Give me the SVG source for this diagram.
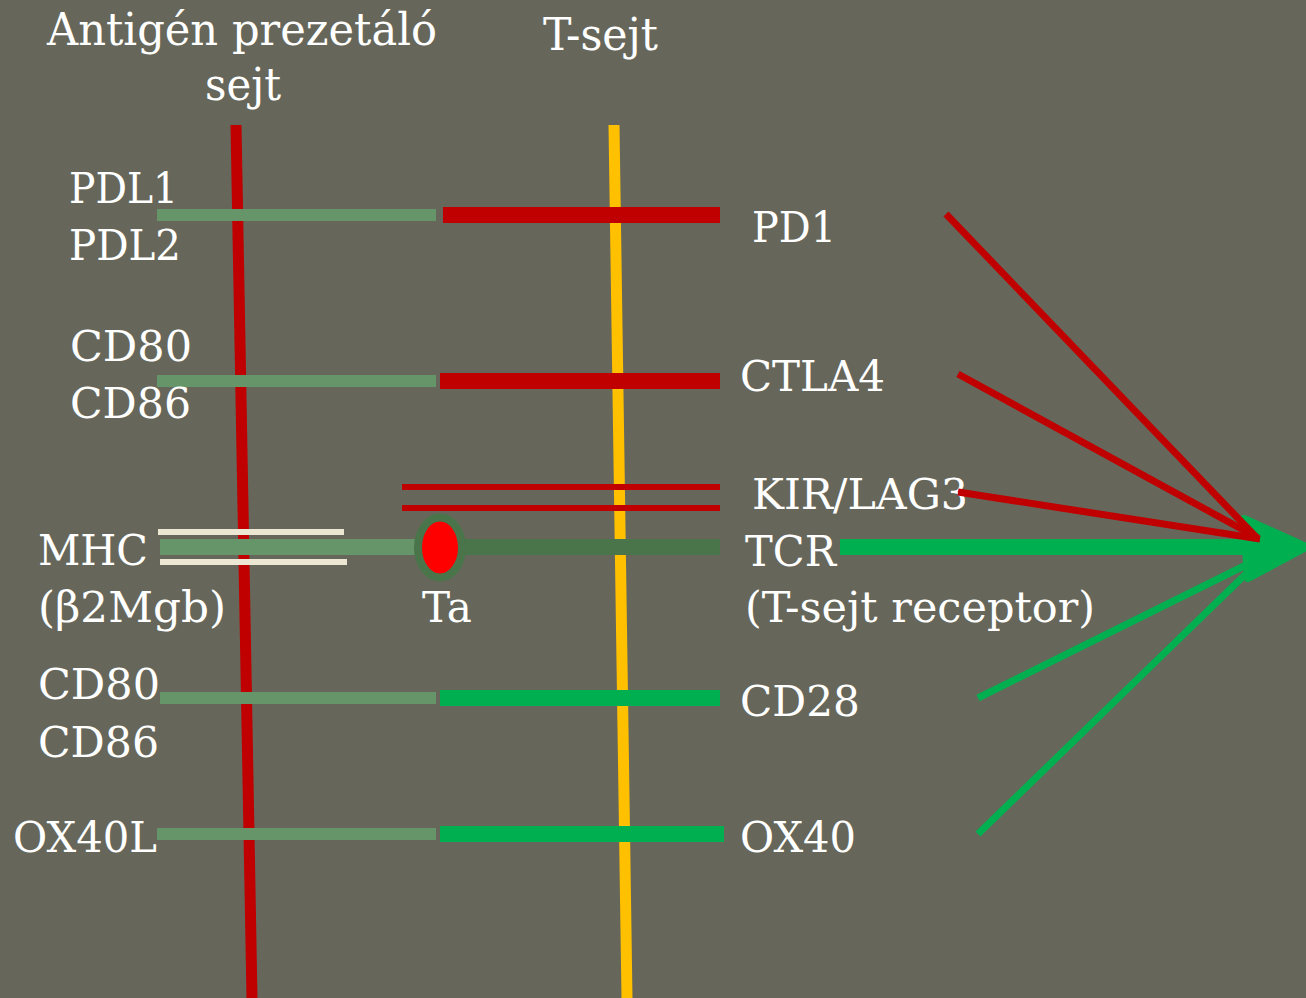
<svg xmlns="http://www.w3.org/2000/svg" width="1306" height="998" viewBox="0 0 1306 998">
  <style>
    .lbl { font-family: "DejaVu Serif", "Liberation Serif", serif; font-size: 42px; fill: #ffffff; }
    .ttl { font-family: "DejaVu Serif", "Liberation Serif", serif; font-size: 44px; fill: #ffffff; }
    .apc { fill: #66956a; }
    .inh { fill: #c00000; }
    .act { fill: #00b050; }
    .sig-red { stroke: #c00000; stroke-width: 7; stroke-linecap: butt; fill: none; }
    .sig-green { stroke: #00b050; stroke-width: 7; stroke-linecap: butt; fill: none; }
  </style>
  <rect width="1306" height="998" fill="#66675a"/>

  <!-- headings -->
  <g id="headings">
    <text class="ttl" x="47" y="45" textLength="390" lengthAdjust="spacingAndGlyphs">Antigén prezetáló</text>
    <text class="ttl" x="205" y="100" textLength="76" lengthAdjust="spacingAndGlyphs">sejt</text>
    <text class="ttl" x="543" y="50" textLength="115" lengthAdjust="spacingAndGlyphs">T-sejt</text>
  </g>

  <!-- cell membranes -->
  <g id="membranes">
    <line x1="236" y1="125" x2="252" y2="998" stroke="#c00000" stroke-width="11"/>
    <line x1="614" y1="125" x2="627" y2="998" stroke="#ffc000" stroke-width="11"/>
  </g>

  <!-- PDL1/PDL2 - PD1 -->
  <g id="pd1">
    <rect class="apc" x="157" y="209" width="279" height="12"/>
    <rect class="inh" x="443" y="207" width="277" height="16"/>
    <text class="lbl" x="69" y="203" textLength="109" lengthAdjust="spacingAndGlyphs">PDL1</text>
    <text class="lbl" x="69" y="260" textLength="112" lengthAdjust="spacingAndGlyphs">PDL2</text>
    <text class="lbl" x="752" y="242" textLength="84" lengthAdjust="spacingAndGlyphs">PD1</text>
  </g>

  <!-- CD80/CD86 - CTLA4 -->
  <g id="ctla4">
    <rect class="apc" x="157" y="375" width="279" height="12"/>
    <rect class="inh" x="440" y="373" width="280" height="16"/>
    <text class="lbl" x="70" y="361" textLength="122" lengthAdjust="spacingAndGlyphs">CD80</text>
    <text class="lbl" x="70" y="418" textLength="121" lengthAdjust="spacingAndGlyphs">CD86</text>
    <text class="lbl" x="740" y="391" textLength="145" lengthAdjust="spacingAndGlyphs">CTLA4</text>
  </g>

  <!-- KIR/LAG3 -->
  <g id="kir-lag3">
    <rect class="inh" x="402" y="484" width="318" height="6"/>
    <rect class="inh" x="402" y="505" width="318" height="6"/>
    <text class="lbl" x="752" y="509" textLength="216" lengthAdjust="spacingAndGlyphs">KIR/LAG3</text>
  </g>

  <!-- MHC + antigen - TCR -->
  <g id="tcr">
    <rect x="158" y="529" width="186" height="6" fill="#ece7d3"/>
    <rect x="160" y="559" width="187" height="6" fill="#ece7d3"/>
    <rect class="apc" x="160" y="539" width="260" height="16"/>
    <rect x="460" y="539" width="260" height="16" fill="#4a744a"/>
    <ellipse cx="440" cy="547.5" rx="22" ry="30" fill="#ff0000" stroke="#4a744a" stroke-width="8"/>
    <text class="lbl" x="38" y="565" textLength="110" lengthAdjust="spacingAndGlyphs">MHC</text>
    <text class="lbl" x="38" y="622" textLength="188" lengthAdjust="spacingAndGlyphs">(β2Mgb)</text>
    <text class="lbl" x="422" y="622" textLength="50" lengthAdjust="spacingAndGlyphs">Ta</text>
    <text class="lbl" x="745" y="566" textLength="91" lengthAdjust="spacingAndGlyphs">TCR</text>
    <text class="lbl" x="745" y="622" textLength="350" lengthAdjust="spacingAndGlyphs">(T-sejt receptor)</text>
  </g>

  <!-- CD80/CD86 - CD28 -->
  <g id="cd28">
    <rect class="apc" x="160" y="692" width="276" height="12"/>
    <rect class="act" x="440" y="690" width="280" height="16"/>
    <text class="lbl" x="38" y="699" textLength="122" lengthAdjust="spacingAndGlyphs">CD80</text>
    <text class="lbl" x="38" y="757" textLength="121" lengthAdjust="spacingAndGlyphs">CD86</text>
    <text class="lbl" x="740" y="716" textLength="120" lengthAdjust="spacingAndGlyphs">CD28</text>
  </g>

  <!-- OX40L - OX40 -->
  <g id="ox40">
    <rect class="apc" x="157" y="828" width="279" height="12"/>
    <rect class="act" x="440" y="826" width="284" height="16"/>
    <text class="lbl" x="13" y="852" textLength="144" lengthAdjust="spacingAndGlyphs">OX40L</text>
    <text class="lbl" x="740" y="852" textLength="116" lengthAdjust="spacingAndGlyphs">OX40</text>
  </g>

  <!-- signal integration connectors -->
  <g id="connectors">
    <line class="sig-green" x1="978" y1="698" x2="1252" y2="562"/>
    <line class="sig-green" x1="978" y1="834" x2="1252" y2="568"/>
    <line x1="840" y1="547" x2="1262" y2="547" stroke="#00b050" stroke-width="16"/>
    <polygon points="1244,519 1306,547 1248,578" fill="#00b050" stroke="#00b050" stroke-width="8" stroke-linejoin="round"/>
    <line class="sig-red" x1="946" y1="214" x2="1256" y2="537"/>
    <line class="sig-red" x1="958" y1="374" x2="1258" y2="538"/>
    <line class="sig-red" x1="958" y1="492" x2="1260" y2="539"/>
  </g>
</svg>
